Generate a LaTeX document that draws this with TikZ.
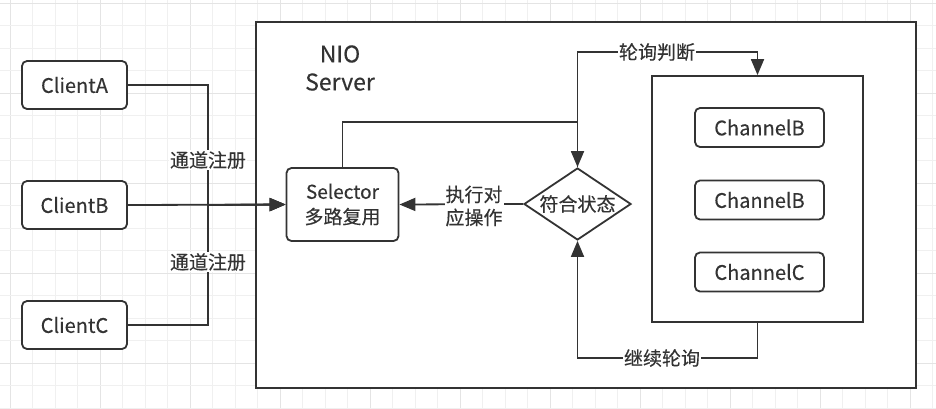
\documentclass[tikz,border=0pt]{standalone}
\usepackage{fontspec}
\setmainfont{Noto Sans CJK SC}[FakeBold=0.25]
\usetikzlibrary{arrows.meta,shapes.geometric}
\definecolor{ink}{HTML}{333333}
\definecolor{gridminor}{HTML}{F0F0F0}
\definecolor{gridmajor}{HTML}{E4E4E4}
\begin{document}
\begin{tikzpicture}[x=1pt,y=-1pt,
  every node/.style={text=ink, font=\fontsize{19}{24}\selectfont},
  latin/.style={font=\fontsize{20}{24}\selectfont},
  rbox/.style={draw=ink, line width=1.8pt, rounded corners=5pt, fill=white, inner sep=0pt},
  sqbox/.style={draw=ink, line width=1.8pt, fill=white, inner sep=0pt},
  conn/.style={draw=ink, line width=1.8pt},
  arr/.style={conn, -{Triangle[length=16pt,width=13pt]}},
  lbl/.style={fill=white, inner sep=1pt, align=center}]
\useasboundingbox (0,0) rectangle (936,408);
\fill[white] (0,0) rectangle (936,408);
% grid
\foreach \k in {0,...,41} {
  \pgfmathsetmacro{\xx}{10+22.5*\k}
  \pgfmathtruncatemacro{\m}{mod(\k,4)}
  \ifnum\m=0 \draw[gridmajor, line width=1pt] (\xx,0) -- (\xx,408);
  \else \draw[gridminor, line width=1pt] (\xx,0) -- (\xx,408); \fi
}
\foreach \k in {0,...,18} {
  \pgfmathsetmacro{\yy}{3+22.5*\k}
  \pgfmathtruncatemacro{\m}{mod(\k,4)}
  \ifnum\m=0 \draw[gridmajor, line width=1pt] (0,\yy) -- (936,\yy);
  \else \draw[gridminor, line width=1pt] (0,\yy) -- (936,\yy); \fi
}
% server frame
\node[sqbox, minimum width=660pt, minimum height=366pt] (server) at (586,205) {};
\node[align=center, font=\fontsize{23}{28}\selectfont] (nio) at (340,68) {NIO\\Server};
% clients
\node[rbox, latin, minimum width=105pt, minimum height=48pt] (clientA) at (74.5,85) {ClientA};
\node[rbox, latin, minimum width=105pt, minimum height=48pt] (clientB) at (74.5,205) {ClientB};
\node[rbox, latin, minimum width=105pt, minimum height=48pt] (clientC) at (74.5,325) {ClientC};
% selector
\node[rbox, minimum width=112pt, minimum height=73pt, align=center, font=\fontsize{19}{25}\selectfont] (selector) at (342.5,204.5) {Selector\\多路复用};
% diamond
\node[diamond, draw=ink, line width=1.8pt, fill=white, minimum width=107pt, minimum height=72pt, inner sep=0pt, aspect=1.486] (state) at (577.5,204) {};
\node (statetxt) at (state) {符合状态};
% channel box
\node[sqbox, minimum width=211pt, minimum height=246pt] (chbox) at (757.5,199) {};
\node[rbox, latin, minimum width=129pt, minimum height=39pt] (ch1) at (759.5,127.5) {ChannelB};
\node[rbox, latin, minimum width=129pt, minimum height=39pt] (ch2) at (759.5,200) {ChannelB};
\node[rbox, latin, minimum width=129pt, minimum height=39pt] (ch3) at (759.5,272) {ChannelC};
% coordinates
\coordinate (j) at (208,205);
\coordinate (k) at (577.5,122);
\coordinate (t) at (577.5,52);
\coordinate (b) at (577.5,358);
% client connectors
\draw[arr] (clientA.east) -| (j) -- (selector.west);
\draw[arr] (clientC.east) -| (j) -- (selector.west);
\draw[arr] (clientB.east) -- (selector.west);
\node[lbl] (reg1) at (208,160) {通道注册};
\node[lbl] (reg2) at (208,262) {通道注册};
% selector to diamond
\draw[arr] (selector.north) |- (k) -- (state.north);
% diamond to channels
\draw[arr] (state.north) -- (t) -| (chbox.north);
\node[lbl] (poll) at (657,52) {轮询判断};
% channels back to diamond
\draw[arr] (chbox.south) |- (b) -- (state.south);
\node[lbl] (cont) at (662,358) {继续轮询};
% diamond to selector
\draw[arr] (state.west) -- (selector.east);
\node[lbl, font=\fontsize{19}{23}\selectfont] (exec) at (474,206) {执行对\\应操作};
\end{tikzpicture}
\end{document}
